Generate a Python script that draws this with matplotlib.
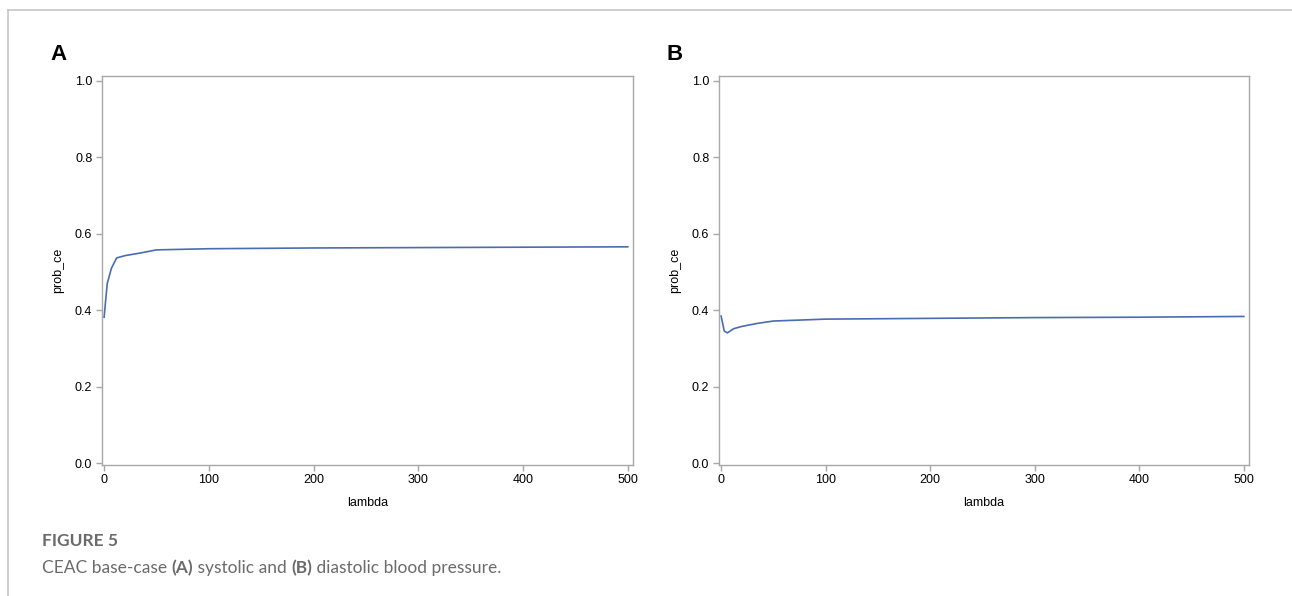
import matplotlib
matplotlib.use("Agg")
import matplotlib.pyplot as plt
from matplotlib.lines import Line2D

# CEAC values
lam_a = [0, 3, 7, 12, 20, 35, 50, 100, 200, 300, 400, 500]
prob_a = [0.382, 0.470, 0.510, 0.537, 0.543, 0.550, 0.558, 0.561, 0.563, 0.564, 0.565, 0.566]

lam_b = [0, 3, 6, 12, 20, 35, 50, 100, 200, 300, 400, 500]
prob_b = [0.385, 0.346, 0.341, 0.352, 0.358, 0.366, 0.372, 0.377, 0.379, 0.381, 0.382, 0.384]

x_ticks = [0, 100, 200, 300, 400, 500]
y_ticks = [0.0, 0.2, 0.4, 0.6, 0.8, 1.0]
panel_labels = ["A", "B"]

W, H = 1292, 596
fig = plt.figure(figsize=(W / 100, H / 100), dpi=100)
plt.rcParams["font.family"] = ["Liberation Sans", "DejaVu Sans"]

line_col = "#4a6cb0"
spine_col = "#a8a8a8"


def px(x0, y0, x1, y1):
    # pixel box -> figure fraction rect
    return [x0 / W, 1 - y1 / H, (x1 - x0) / W, (y1 - y0) / H]


boxes = [px(102, 76, 633, 464.5), px(719, 76, 1249, 464.5)]
series = [(lam_a, prob_a), (lam_b, prob_b)]

for box, (lx, py), lab in zip(boxes, series, panel_labels):
    ax = fig.add_axes(box)
    ax.plot(lx, py, color=line_col, lw=1.2)
    ax.set_xlim(-2, 505)
    ax.set_ylim(-0.003, 1.0125)
    ax.set_xticks(x_ticks)
    ax.set_yticks(y_ticks)
    ax.set_yticklabels([f"{v:.1f}" for v in y_ticks])
    for s in ax.spines.values():
        s.set_color(spine_col)
        s.set_linewidth(1.0)
    ax.tick_params(colors=spine_col, labelcolor="black", labelsize=9,
                   length=4, width=1.0, pad=3)
    ax.set_xlabel("lambda", fontsize=9, labelpad=8)
    ax.set_ylabel("prob_ce", fontsize=9, labelpad=8)
    fig.text((box[0] * W - 52) / W, 1 - 55 / H, lab, fontsize=16,
             fontweight="bold", ha="left", va="center")

# outer frame (top and left only)
fig.add_artist(Line2D([8 / W, 1], [1 - 10 / H, 1 - 10 / H],
                      transform=fig.transFigure, color="#c6c6c6", lw=1.2))
fig.add_artist(Line2D([8 / W, 8 / W], [0, 1 - 10 / H],
                      transform=fig.transFigure, color="#c6c6c6", lw=1.2))

# caption
cap_font = ["Lato", "DejaVu Sans"]
fig.text(42 / W, 1 - 541 / H, "FIGURE 5", fontsize=12.5, fontweight="bold",
         color="#6b6b6b", family=cap_font, va="center", ha="left")

parts = [("CEAC base-case ", "normal"), ("(A)", "bold"),
         (" systolic and ", "normal"), ("(B)", "bold"),
         (" diastolic blood pressure.", "normal")]
fig.canvas.draw()
rend = fig.canvas.get_renderer()
xpos = 42
for txt, wt in parts:
    t = fig.text(xpos / W, 1 - 568 / H, txt, fontsize=12.5, fontweight=wt,
                 color="#6b6b6b", family=cap_font, va="center", ha="left")
    xpos += t.get_window_extent(rend).width

fig.savefig("out.png", dpi=100)
